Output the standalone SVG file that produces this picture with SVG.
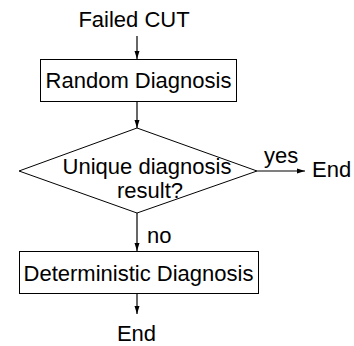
<svg xmlns="http://www.w3.org/2000/svg" width="354" height="346" viewBox="0 0 354 346">
<defs>
<marker id="ah" markerWidth="8" markerHeight="6" refX="8" refY="3" orient="auto" markerUnits="userSpaceOnUse">
<path d="M0,0.5 L8,3 L0,5.5 Z" fill="#000"/>
</marker>
</defs>
<style>
text{font-family:"Liberation Sans",Arial,sans-serif;font-size:22px;fill:#000}
.n{fill:#fff;stroke:#000;stroke-width:1}
.c{stroke:#000;stroke-width:1.2;fill:none;marker-end:url(#ah)}
</style>
<rect width="354" height="346" fill="#fff"/>
<g id="connectors">
<line class="c" x1="137" y1="36" x2="137" y2="59"/>
<line class="c" x1="137" y1="102" x2="137" y2="128"/>
<line class="c" x1="257" y1="171" x2="305" y2="171"/>
<line class="c" x1="137" y1="213" x2="137" y2="251"/>
<line class="c" x1="137" y1="294" x2="137" y2="314"/>
<text x="264" y="163">yes</text>
<text x="147" y="243">no</text>
</g>
<g id="start"><text x="134" y="27" text-anchor="middle">Failed CUT</text></g>
<g id="random">
<rect class="n" x="40.5" y="59.5" width="196" height="42"/>
<text x="138.5" y="88" text-anchor="middle">Random Diagnosis</text>
</g>
<g id="decision">
<polygon class="n" points="19,171 137,128 257,171 137,213"/>
<text x="147" y="174" text-anchor="middle">Unique diagnosis</text>
<text x="150" y="198" text-anchor="middle">result?</text>
</g>
<g id="end1"><text x="312" y="177">End</text></g>
<g id="deterministic">
<rect class="n" x="19.5" y="251.5" width="239" height="42"/>
<text x="138.5" y="281" text-anchor="middle">Deterministic Diagnosis</text>
</g>
<g id="end2"><text x="136.5" y="341" text-anchor="middle">End</text></g>
</svg>
